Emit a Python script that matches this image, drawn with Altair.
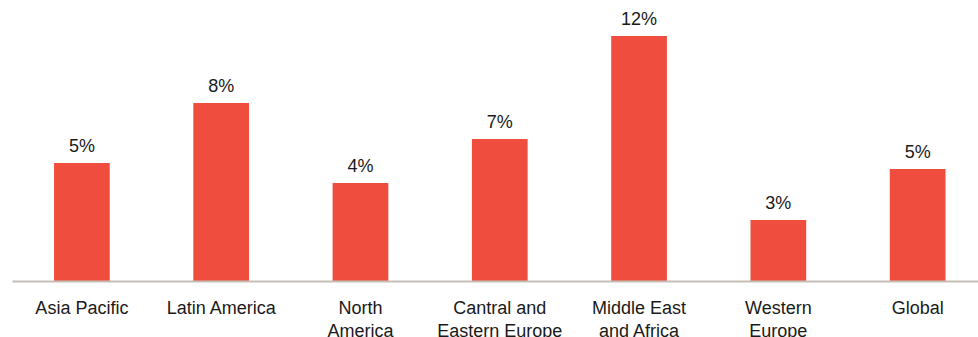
import altair as alt
import pandas as pd

categories = ["Asia Pacific", "Latin America", "North|America", "Cantral and|Eastern Europe",
              "Middle East|and Africa", "Western|Europe", "Global"]
values = [5.78, 8.72, 4.8, 6.96, 12.0, 2.99, 5.49]
value_labels = ["5%", "8%", "4%", "7%", "12%", "3%", "5%"]

df = pd.DataFrame({"region": categories, "value": values, "label": value_labels})

FONT = "Liberation Sans"
RED = "#EF4E3F"

x = alt.X("region:N", sort=None, title=None,
          scale=alt.Scale(paddingInner=0.6, paddingOuter=0.2675, align=0.564),
          axis=alt.Axis(labelAngle=0, labelFont=FONT, labelFontSize=18, labelColor="#1a1a1a",
                        labelExpr="split(datum.label, '|')", labelLineHeight=23,
                        labelBaseline="top", labelPadding=18, ticks=False, tickSize=0,
                        domainColor="#C6BDB6", domainWidth=2, zindex=1, labelLimit=300))
y = alt.Y("value:Q", title=None, scale=alt.Scale(domain=[0, 12], nice=False, zero=True),
          axis=None)

bars = alt.Chart(df).mark_bar(color=RED).encode(x=x, y=y)
text = alt.Chart(df).mark_text(font=FONT, fontSize=18, color="#1a1a1a", dy=-11,
                               align="center", baseline="alphabetic").encode(
    x=alt.X("region:N", sort=None), y="value:Q", text="label:N")

chart = alt.layer(bars, text).properties(
    width=966, height=245,
    background="white",
    autosize=alt.AutoSizeParams(type="none"),
    padding={"left": 12, "top": 36, "right": 0, "bottom": 56},
).configure_view(strokeWidth=0, stroke="transparent")

chart.save("out.html", embed_options={"renderer": "svg", "actions": False})
